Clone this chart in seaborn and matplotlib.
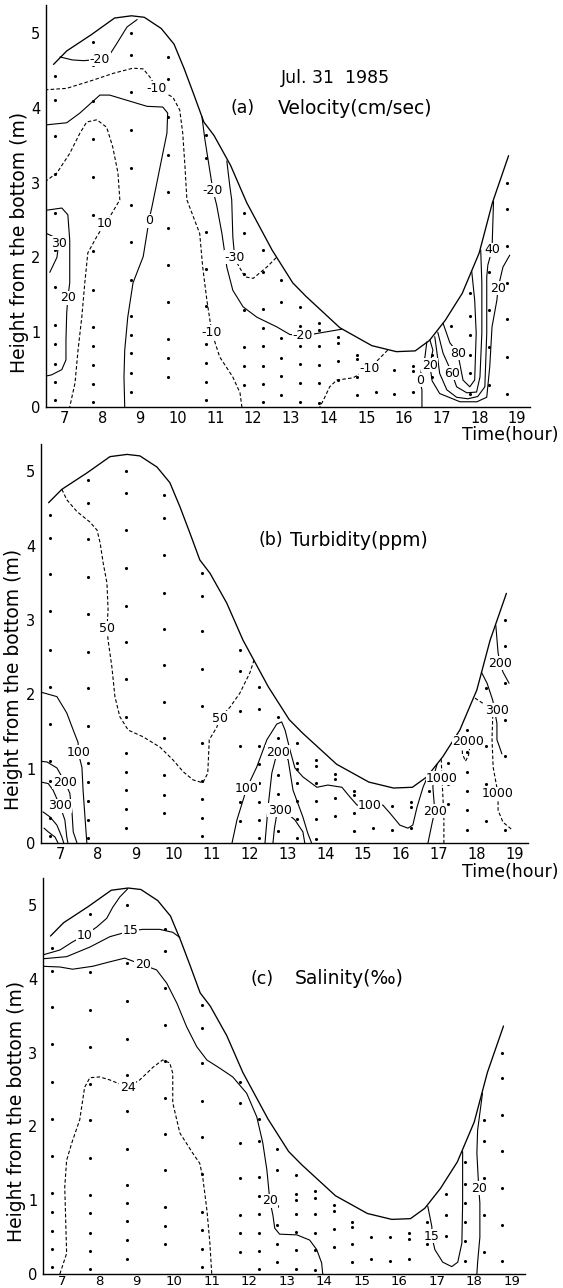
import matplotlib
matplotlib.use("Agg")
import matplotlib.pyplot as plt
import seaborn as sns
import pandas as pd

sns.set_style("white")
plt.rcParams['font.family'] = ['DejaVu Sans']

# ---------------- data: water surface (time in hour, height in m) ----------------
surface_t = [6.70, 7.05, 7.71, 8.32, 8.77, 9.11, 9.56, 9.90, 10.17, 10.43, 10.69, 10.96, 11.40, 11.83,
             12.50, 13.05, 13.40, 14.30, 15.15, 15.80, 16.30, 16.68, 17.10, 17.55, 18.00, 18.35, 18.78]
surface_h = [4.58, 4.76, 4.98, 5.20, 5.23, 5.21, 5.06, 4.85, 4.52, 4.17, 3.81, 3.63, 3.23, 2.73,
             2.10, 1.66, 1.48, 1.06, 0.82, 0.74, 0.75, 0.89, 1.16, 1.52, 2.06, 2.73, 3.36]

# ---------------- sampling points ----------------
dot_times = [6.75, 7.75, 8.75, 9.75, 10.75, 11.75, 12.25, 12.75, 13.25, 13.75, 14.25, 14.75,
             15.25, 15.75, 16.25, 16.75, 17.25, 17.75, 18.25, 18.75]
dot_heights = [
    [4.42, 4.1, 3.62, 3.12, 2.6, 2.1, 1.6, 1.1, 0.84, 0.58, 0.34, 0.1],
    [4.88, 4.57, 4.09, 3.58, 3.08, 2.57, 2.08, 1.57, 1.07, 0.82, 0.56, 0.31, 0.07],
    [5.0, 4.71, 4.21, 3.7, 3.19, 2.7, 2.21, 1.7, 1.21, 0.96, 0.72, 0.46, 0.2],
    [4.68, 4.38, 3.88, 3.37, 2.88, 2.39, 1.9, 1.41, 0.91, 0.65, 0.4],
    [3.64, 3.33, 2.86, 2.34, 1.85, 1.35, 0.84, 0.59, 0.34, 0.1],
    [2.6, 2.32, 1.78, 1.3, 0.8, 0.55, 0.3],
    [2.1, 1.8, 1.31, 1.06, 0.81, 0.55, 0.31, 0.07],
    [1.7, 1.41, 0.92, 0.66, 0.41, 0.16],
    [1.34, 1.08, 1.0, 0.81, 0.57, 0.32, 0.07],
    [1.12, 1.03, 0.81, 0.56, 0.32, 0.05],
    [0.93, 0.86, 0.61, 0.36],
    [0.7, 0.64, 0.4, 0.16],
    [0.5, 0.2],
    [0.5, 0.18],
    [0.55, 0.48, 0.2],
    [0.7, 0.4],
    [1.08, 0.8, 0.52],
    [1.52, 1.22, 0.96, 0.7, 0.45, 0.18],
    [2.09, 1.8, 1.3, 0.8, 0.3],
    [3.0, 2.65, 2.15, 1.66, 1.17, 0.67, 0.17],
]

# ---------------- (a) velocity contours ----------------
a_m20_top_t = [6.87, 7.2, 7.5, 7.93, 8.19, 8.38, 8.65, 8.92]
a_m20_top_h = [4.68, 4.64, 4.63, 4.65, 4.71, 4.86, 5.08, 5.18]
a_m10_top_t = [6.47, 7.05, 7.75, 8.28, 8.81, 9.08, 9.26, 9.44, 9.87, 10.05, 10.13, 10.19, 10.24, 10.58,
               10.66, 10.77, 10.9, 11.11, 11.46, 11.65, 11.7]
a_m10_top_h = [4.24, 4.26, 4.37, 4.46, 4.53, 4.52, 4.41, 4.26, 4.14, 3.97, 3.66, 3.21, 2.77, 2.32,
               1.87, 1.43, 1.0, 0.67, 0.4, 0.19, 0.0]
a_0_top_t = [6.47, 7.05, 7.4, 7.93, 8.19, 8.65, 9.18, 9.6, 9.73, 9.71, 9.6, 9.44, 9.31, 9.23, 9.18,
             9.08, 8.81, 8.67, 8.59, 8.57, 8.59]
a_0_top_h = [3.77, 3.80, 3.93, 4.17, 4.17, 4.10, 4.02, 4.01, 3.93, 3.66, 3.39, 2.99, 2.67, 2.49, 2.32,
             2.01, 1.66, 1.2, 0.76, 0.4, 0.0]
a_10_t = [6.47, 6.79, 7.13, 7.4, 7.58, 7.85, 8.11, 8.27, 8.41, 8.46, 8.19, 8.06, 7.85, 7.61, 7.53,
          7.45, 7.35, 7.27, 7.13]
a_10_h = [3.01, 3.13, 3.39, 3.66, 3.81, 3.84, 3.74, 3.48, 3.13, 2.77, 2.54, 2.45, 2.28, 2.06, 1.66,
          1.2, 0.76, 0.32, 0.0]
a_30_t = [6.47, 6.73, 6.84, 6.79, 6.6]
a_30_h = [2.33, 2.27, 2.19, 2.0, 1.8]
a_20_left_t = [6.5, 6.92, 7.08, 7.13, 7.13, 7.08, 7.05, 7.03, 7.03, 6.92, 6.65, 6.47]
a_20_left_h = [2.63, 2.66, 2.57, 2.23, 1.66, 1.46, 1.26, 0.9, 0.63, 0.5, 0.43, 0.41]
a_m20_mid_t = [10.64, 10.72, 10.93, 11.03, 11.17, 11.3, 11.46, 11.73, 12.1, 12.63, 12.97, 13.32, 13.77, 14.35]
a_m20_mid_h = [3.88, 3.57, 2.9, 2.7, 2.32, 1.87, 1.56, 1.34, 1.2, 1.07, 0.97, 0.95, 0.99, 1.04]
a_m30_sol_t = [11.3, 11.38, 11.43, 11.46, 11.51]
a_m30_sol_h = [3.29, 2.95, 2.77, 2.27, 2.0]
a_m30_dash_t = [11.51, 11.6, 11.78, 12.0, 12.36, 12.62]
a_m30_dash_h = [2.0, 1.9, 1.74, 1.72, 1.87, 2.0]
a_m10_right_t = [15.57, 15.1, 14.65, 14.22, 14.03, 13.9, 13.77]
a_m10_right_h = [0.76, 0.52, 0.39, 0.36, 0.27, 0.13, 0.0]
a_0_right_t = [16.61, 16.56, 16.48, 16.42, 16.48, 16.48]
a_0_right_h = [0.87, 0.67, 0.54, 0.36, 0.23, 0.0]
a_20_right_t = [16.69, 16.77, 16.69, 16.75, 16.95, 17.49, 17.94, 18.2, 18.28, 18.34, 18.47, 18.5, 18.63, 18.81]
a_20_right_h = [0.9, 0.76, 0.56, 0.35, 0.18, 0.07, 0.07, 0.13, 0.54, 1.07, 1.43, 1.59, 1.87, 2.03]
a_40_t = [16.82, 16.87, 16.95, 17.14, 17.4, 17.7, 17.96, 18.15, 18.2, 18.2, 18.23, 18.34, 18.38]
a_40_h = [0.94, 0.76, 0.45, 0.23, 0.13, 0.11, 0.14, 0.27, 0.99, 1.74, 1.9, 2.1, 2.75]
a_60_t = [16.9, 17.04, 17.27, 17.4, 17.67, 17.93, 18.02, 18.07, 18.07, 18.04]
a_60_h = [1.0, 0.72, 0.46, 0.27, 0.19, 0.2, 0.4, 0.99, 1.66, 2.1]
a_80_t = [17.04, 17.22, 17.43, 17.57, 17.75, 17.88, 17.92, 17.88, 17.8]
a_80_h = [1.12, 0.86, 0.72, 0.36, 0.27, 0.36, 0.99, 1.43, 1.82]
a_label_text = ["-20", "-10", "10", "0", "30", "20", "-20", "-30", "-10", "-20", "-10", "0", "20", "60", "80", "40", "20"]
a_label_t = [7.93, 9.44, 8.06, 9.23, 6.84, 7.08, 10.93, 11.51, 10.9, 13.32, 15.1, 16.42, 16.69, 17.27, 17.43, 18.34, 18.5]
a_label_h = [4.65, 4.26, 2.45, 2.49, 2.19, 1.46, 2.9, 2.0, 1.0, 0.95, 0.52, 0.36, 0.56, 0.45, 0.72, 2.1, 1.59]

# ---------------- (b) turbidity contours ----------------
b_50_t = [7.05, 7.18, 7.45, 7.79, 7.98, 8.06, 8.14, 8.24, 8.27, 8.24, 8.27, 8.37, 8.45, 8.58, 8.8, 9.19,
          9.64, 9.98, 10.25, 10.51, 10.77, 10.9, 10.94, 11.14, 11.22, 11.49, 11.75, 12.01, 12.12]
b_50_h = [4.76, 4.62, 4.46, 4.32, 4.21, 4.04, 3.77, 3.5, 3.14, 2.89, 2.73, 2.37, 1.97, 1.7, 1.52, 1.43,
          1.29, 1.12, 0.96, 0.85, 0.81, 0.94, 1.39, 1.56, 1.68, 1.83, 2.02, 2.29, 2.46]
b_100_left_t = [6.5, 6.92, 7.18, 7.35, 7.48, 7.48, 7.58, 7.61, 7.66, 7.71]
b_100_left_h = [2.03, 1.97, 1.75, 1.52, 1.35, 1.22, 1.02, 0.71, 0.35, 0.0]
b_200_left_t = [6.5, 6.66, 6.92, 7.13, 7.26, 7.32, 7.35, 7.45]
b_200_left_h = [1.1, 1.09, 1.01, 0.82, 0.67, 0.4, 0.15, 0.0]
b_300_left_t = [6.5, 6.69, 6.82, 7.0, 7.13, 7.18, 7.21]
b_300_left_h = [0.82, 0.8, 0.71, 0.5, 0.31, 0.08, 0.0]
b_400_left_t = [6.55, 6.74, 6.92, 7.05, 7.1]
b_400_left_h = [0.42, 0.35, 0.24, 0.08, 0.0]
b_500_left_t = [6.58, 6.69, 6.87, 6.95]
b_500_left_h = [0.2, 0.15, 0.08, 0.0]
b_100_mid_t = [11.54, 11.67, 11.93, 12.19, 12.46, 12.72, 12.85, 12.94, 13.07, 13.2, 13.41, 13.78, 14.07,
               14.44, 14.65, 14.84, 15.18, 15.52, 15.71, 15.97, 16.18, 16.31, 16.42, 16.58, 16.68]
b_100_mid_h = [0.0, 0.31, 0.74, 1.02, 1.39, 1.6, 1.63, 1.52, 1.25, 1.01, 0.89, 0.75, 0.78,
               0.75, 0.62, 0.51, 0.5, 0.51, 0.4, 0.24, 0.2, 0.24, 0.48, 0.75, 0.87]
b_200_mid_t = [12.41, 12.49, 12.59, 12.68, 12.75, 12.9, 13.02, 13.15, 13.41, 13.54, 13.64]
b_200_mid_h = [0.0, 0.48, 0.94, 1.12, 1.22, 1.2, 1.12, 0.71, 0.35, 0.13, 0.0]
b_300_mid_t = [12.62, 12.66, 12.72, 12.8, 12.95, 13.2, 13.41, 13.46]
b_300_mid_h = [0.0, 0.2, 0.38, 0.44, 0.42, 0.31, 0.15, 0.0]
b_200_right_t = [16.95, 16.86, 16.84, 16.89, 16.82, 16.71]
b_200_right_h = [1.06, 0.9, 0.75, 0.43, 0.27, 0.0]
b_1000_a_t = [17.06, 17.08, 17.1, 17.13, 17.13]
b_1000_a_h = [1.13, 0.87, 0.67, 0.35, 0.0]
b_2000_t = [17.6, 17.62, 17.7, 17.78, 17.85]
b_2000_h = [1.4, 1.2, 1.1, 1.18, 1.4]
b_300_dash_t = [17.95, 18.16, 18.45]
b_300_dash_h = [1.95, 1.88, 1.8]
b_1000_b_t = [18.42, 18.4, 18.43, 18.56, 18.56, 18.69, 18.95]
b_1000_b_h = [1.72, 1.4, 1.02, 0.66, 0.44, 0.28, 0.17]
b_300_sol_t = [18.12, 18.27, 18.42, 18.53, 18.53, 18.6, 18.66]
b_300_sol_h = [2.3, 2.15, 1.92, 1.61, 1.39, 1.29, 1.2]
b_200_rt_t = [18.5, 18.56, 18.61, 18.69, 18.85]
b_200_rt_h = [2.93, 2.56, 2.42, 2.3, 2.15]
b_label_text = ["50", "50", "100", "200", "300", "100", "200", "300", "100", "200", "1000", "2000", "300", "1000", "200"]
b_label_t = [8.24, 11.22, 7.48, 7.13, 7.0, 11.93, 12.75, 12.8, 15.18, 16.89, 17.08, 17.77, 18.53, 18.56, 18.61]
b_label_h = [2.89, 1.68, 1.22, 0.82, 0.5, 0.74, 1.22, 0.44, 0.5, 0.43, 0.87, 1.36, 1.79, 0.66, 2.42]

# ---------------- (c) salinity contours ----------------
c_10_t = [6.47, 6.95, 7.29, 7.61, 7.93, 8.2, 8.36, 8.55, 8.76]
c_10_h = [4.32, 4.39, 4.5, 4.59, 4.7, 4.82, 4.97, 5.11, 5.22]
c_15_t = [6.47, 7.13, 7.75, 8.28, 8.84, 9.16, 9.61, 9.96, 10.15]
c_15_h = [4.27, 4.3, 4.43, 4.57, 4.65, 4.67, 4.67, 4.63, 4.56]
c_20_t = [6.47, 6.95, 7.29, 7.83, 8.28, 8.68, 9.16, 9.53, 9.8, 10.07, 10.33, 10.6, 10.87, 11.21, 11.56,
          11.93, 12.2, 12.36, 12.47, 12.55, 12.63, 12.68, 12.81, 13.27, 13.61, 13.8, 13.93, 13.96]
c_20_h = [4.17, 4.16, 4.13, 4.17, 4.23, 4.28, 4.19, 4.12, 3.94, 3.67, 3.35, 3.08, 2.9, 2.79, 2.67,
          2.45, 2.13, 1.78, 1.41, 0.99, 0.8, 0.62, 0.54, 0.53, 0.46, 0.33, 0.15, 0.0]
c_24_t = [6.95, 7.13, 7.08, 7.13, 7.27, 7.48, 7.61, 7.75, 8.01, 8.28, 8.76, 9.08, 9.35, 9.43, 9.69, 9.88,
          9.96, 9.96, 10.15, 10.49, 10.68, 10.76, 10.87, 10.95, 11.0]
c_24_h = [0.0, 0.28, 1.18, 1.54, 1.78, 2.09, 2.53, 2.66, 2.67, 2.63, 2.53, 2.63, 2.76, 2.8, 2.9, 2.86,
          2.72, 2.32, 1.91, 1.64, 1.5, 1.31, 0.87, 0.42, 0.0]
c_15_right_t = [16.76, 16.87, 16.87, 16.95, 17.16, 17.4, 17.56, 17.67, 17.69, 17.69]
c_15_right_h = [0.92, 0.64, 0.51, 0.33, 0.16, 0.1, 0.16, 0.42, 0.96, 1.66]
c_20_right_t = [18.22, 18.09, 18.07, 18.12, 18.15, 18.15, 18.09, 18.07]
c_20_right_h = [2.45, 1.95, 1.64, 1.16, 0.96, 0.5, 0.16, 0.0]
c_label_text = ["10", "15", "20", "24", "20", "15", "20"]
c_label_t = [7.61, 8.84, 9.16, 8.76, 12.55, 16.87, 18.12]
c_label_h = [4.59, 4.65, 4.19, 2.53, 0.99, 0.51, 1.16]

x_ticks = [7, 8, 9, 10, 11, 12, 13, 14, 15, 16, 17, 18, 19]
y_ticks = [0, 1, 2, 3, 4, 5]

# ---------------- figure ----------------
W, H = 563, 1288
fig = plt.figure(figsize=(W / 100, H / 100), dpi=100)
XMIN, XMAX, YMAX = 6.5, 19.35, 5.37
YLABEL = "Height from the bottom (m)"


def make_axes(left_px, zero_px, px_per_h, px_per_m, xpad):
    width = (XMAX - XMIN) * px_per_h
    height = YMAX * px_per_m
    ax = fig.add_axes([left_px / W, 1 - zero_px / H, width / W, height / H])
    ax.set_xlim(XMIN, XMAX)
    ax.set_ylim(0, YMAX)
    for s in ["top", "right"]:
        ax.spines[s].set_visible(False)
    for s in ["left", "bottom"]:
        ax.spines[s].set_color("black")
        ax.spines[s].set_linewidth(1.0)
    ax.set_xticks(x_ticks)
    ax.set_yticks(y_ticks)
    ax.tick_params(axis="x", direction="in", length=3, width=0.8, labelsize=10.5, pad=xpad, colors="black")
    ax.tick_params(axis="y", direction="out", length=3, width=0.8, labelsize=10.5, pad=1, colors="black")
    ax.set_facecolor("white")
    return ax


def line(ax, t, h, dashed=False, lw=0.8):
    ls = (0, (3.2, 2.0)) if dashed else "-"
    sns.lineplot(x=t, y=h, sort=False, estimator=None, ax=ax, color="black", lw=lw,
                 linestyle=ls, legend=False)


def labels(ax, texts, ts, hs):
    for s, t, h in zip(texts, ts, hs):
        ax.text(t, h, s, fontsize=9, ha="center", va="center", color="black", zorder=5,
                bbox=dict(facecolor="white", edgecolor="none", pad=0.4))


dots = pd.DataFrame([(t, h) for t, hs in zip(dot_times, dot_heights) for h in hs], columns=["t", "h"])
surface = pd.DataFrame({"t": surface_t, "h": surface_h})


def base(ax):
    sns.lineplot(data=surface, x="t", y="h", sort=False, estimator=None, ax=ax, color="black", lw=0.95)
    sns.scatterplot(data=dots, x="t", y="h", ax=ax, color="black", s=5, linewidth=0, legend=False, zorder=4)
    ax.set_xlabel("")
    ax.set_ylabel(YLABEL, fontsize=13.5, color="black")
    ax.yaxis.set_label_coords(-0.036, 0.41)


# ---- panel (a)
axa = make_axes(46, 407, 37.67, 74.8, 3)
base(axa)
for t, h, d in [(a_m20_top_t, a_m20_top_h, False), (a_m10_top_t, a_m10_top_h, True),
                (a_0_top_t, a_0_top_h, False), (a_10_t, a_10_h, True), (a_30_t, a_30_h, False),
                (a_20_left_t, a_20_left_h, False), (a_m20_mid_t, a_m20_mid_h, False),
                (a_m30_sol_t, a_m30_sol_h, False), (a_m30_dash_t, a_m30_dash_h, True),
                (a_m10_right_t, a_m10_right_h, True), (a_0_right_t, a_0_right_h, False),
                (a_20_right_t, a_20_right_h, False), (a_40_t, a_40_h, False),
                (a_60_t, a_60_h, False), (a_80_t, a_80_h, False)]:
    line(axa, t, h, d)
labels(axa, a_label_text, a_label_t, a_label_h)

# ---- panel (b)
axb = make_axes(41, 843, 37.9, 74.3, 3)
base(axb)
for t, h, d in [(b_50_t, b_50_h, True), (b_100_left_t, b_100_left_h, False),
                (b_200_left_t, b_200_left_h, False), (b_300_left_t, b_300_left_h, False),
                (b_400_left_t, b_400_left_h, False), (b_500_left_t, b_500_left_h, False),
                (b_100_mid_t, b_100_mid_h, False), (b_200_mid_t, b_200_mid_h, False),
                (b_300_mid_t, b_300_mid_h, False), (b_200_right_t, b_200_right_h, False),
                (b_1000_a_t, b_1000_a_h, True), (b_2000_t, b_2000_h, True),
                (b_300_dash_t, b_300_dash_h, True), (b_1000_b_t, b_1000_b_h, True),
                (b_300_sol_t, b_300_sol_h, False), (b_200_rt_t, b_200_rt_h, False)]:
    line(axb, t, h, d)
labels(axb, b_label_text, b_label_t, b_label_h)

# ---- panel (c)
axc = make_axes(43, 1274, 37.5, 73.8, 0.5)
axc.tick_params(axis="x", labelsize=9.5)
base(axc)
for t, h, d in [(c_10_t, c_10_h, False), (c_15_t, c_15_h, False), (c_20_t, c_20_h, False),
                (c_24_t, c_24_h, True), (c_15_right_t, c_15_right_h, False),
                (c_20_right_t, c_20_right_h, False)]:
    line(axc, t, h, d)
labels(axc, c_label_text, c_label_t, c_label_h)


def ftext(x_px, y_px, s, size=13, ha="left"):
    fig.text(x_px / W, 1 - y_px / H, s, fontsize=size, ha=ha, va="center", color="black")


ftext(335, 78, "Jul. 31  1985", 12.5, "center")
ftext(231, 108, "(a)", 12.5)
ftext(278, 108, "Velocity(cm/sec)", 13.5)
ftext(259, 540, "(b)", 12.5)
ftext(290, 540, "Turbidity(ppm)", 13.5)
ftext(250, 979, "(c)", 12.5)
ftext(295, 979, "Salinity(‰)", 13.5)
ftext(558, 435, "Time(hour)", 12.5, "right")
ftext(558, 872, "Time(hour)", 12.5, "right")

fig.savefig("out.png", dpi=100, facecolor="white")
